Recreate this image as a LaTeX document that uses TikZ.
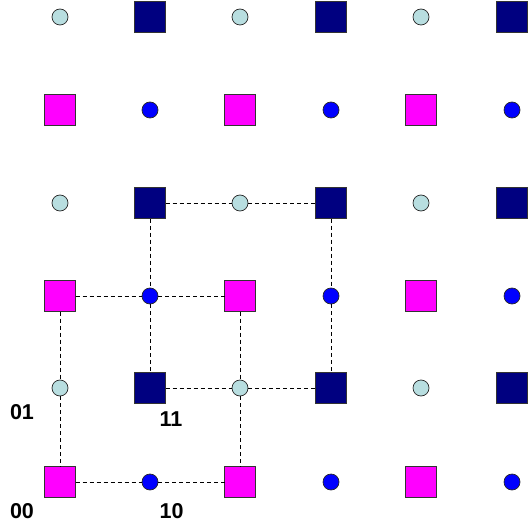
\documentclass[tikz,border=0pt]{standalone}
\usepackage{fontspec}
\setmainfont{Liberation Sans}
\definecolor{lightc}{RGB}{184,222,224}
\definecolor{navyc}{RGB}{0,0,128}
\definecolor{magc}{RGB}{255,0,255}
\definecolor{bluec}{RGB}{0,0,255}
\begin{document}
\begin{tikzpicture}[x=1pt,y=-1pt,
  sq/.style={draw=black!80,line width=0.7pt,minimum size=31pt,inner sep=0pt,outer sep=0pt},
  navysq/.style={sq,fill=navyc},
  magsq/.style={sq,fill=magc},
  dot/.style={circle,draw=black!85,line width=0.7pt,minimum size=16pt,inner sep=0pt,outer sep=0pt},
  lightdot/.style={dot,fill=lightc},
  bluedot/.style={dot,fill=bluec},
  link/.style={draw=black,line width=0.7pt,dash pattern=on 4pt off 3pt},
  lab/.style={font=\fontsize{21.5}{21.5}\selectfont\bfseries,inner sep=0pt}]
\useasboundingbox (0,0) rectangle (528,529);
\foreach \r/\y in {0/17,1/110,2/203,3/296,4/388,5/482}{
  \foreach \c/\x in {0/60,1/150,2/240,3/331,4/421,5/512}{
    \pgfmathtruncatemacro{\rp}{mod(\r,2)}
    \pgfmathtruncatemacro{\cp}{mod(\c,2)}
    \ifnum\rp=0
      \ifnum\cp=0 \node[lightdot] (n\r\c) at (\x,\y) {};
      \else \node[navysq] (n\r\c) at (\x,\y) {};
      \fi
    \else
      \ifnum\cp=0 \node[magsq] (n\r\c) at (\x,\y) {};
      \else \node[bluedot] (n\r\c) at (\x,\y) {};
      \fi
    \fi
  }
}
% horizontal links
\draw[link] (n21) -- (n22);
\draw[link] (n22) -- (n23);
\draw[link] (n30) -- (n31);
\draw[link] (n31) -- (n32);
\draw[link] (n41) -- (n42);
\draw[link] (n42) -- (n43);
\draw[link] (n50) -- (n51);
\draw[link] (n51) -- (n52);
% vertical links
\draw[link] (n30) -- (n40);
\draw[link] (n40) -- (n50);
\draw[link] (n21) -- (n31);
\draw[link] (n31) -- (n41);
\draw[link] (n32) -- (n42);
\draw[link] (n42) -- (n52);
\draw[link] (n23) -- (n33);
\draw[link] (n33) -- (n43);
% labels
\node[lab] (l01) at (22,412) {01};
\node[lab] (l11) at (171,419.5) {11};
\node[lab] (l00) at (22,511) {00};
\node[lab] (l10) at (171.5,511) {10};
\end{tikzpicture}
\end{document}
